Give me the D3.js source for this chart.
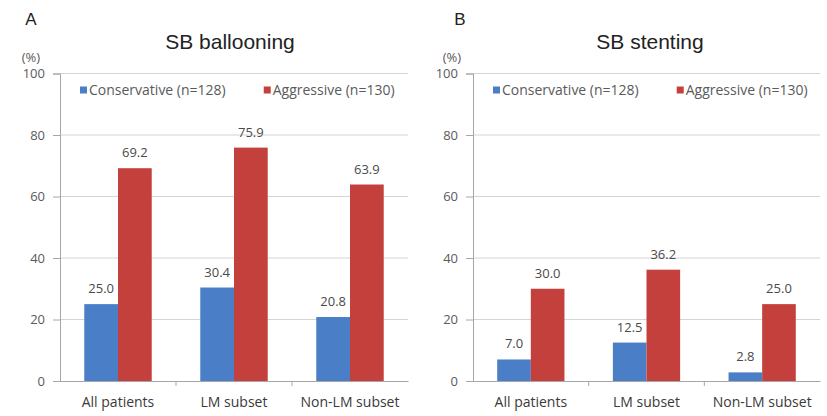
<!DOCTYPE html>
<html>
<head>
<meta charset="utf-8">
<script src="https://cdn.jsdelivr.net/npm/d3@7"></script>
<style>
  html, body { margin: 0; padding: 0; background: #fff; }
  svg { display: block; font-family: "Open Sans", "Noto Sans", sans-serif; }
</style>
</head>
<body>
<svg id="chart" width="827" height="416"></svg>
<script>
// Subgroups shown on the x axis
const categories = ["All patients", "LM subset", "Non-LM subset"];
// Percent of patients per strategy, panel A (SB ballooning)
const ballooningConservative = [25.0, 30.4, 20.8];
const ballooningAggressive = [69.2, 75.9, 63.9];
// Percent of patients per strategy, panel B (SB stenting)
const stentingConservative = [7.0, 12.5, 2.8];
const stentingAggressive = [30.0, 36.2, 25.0];
// Legend entries and y-axis ticks
const seriesNames = ["Conservative (n=128)", "Aggressive (n=130)"];
const yTicks = [0, 20, 40, 60, 80, 100];

const colors = ["#4a7ec6", "#c4403c"];
const svg = d3.select("#chart");

function drawPanel(opt) {
  const g = svg.append("g");
  const x = d3.scaleBand().domain(categories).range([opt.left, opt.right]);
  const y = d3.scaleLinear().domain([0, 100]).range([381, 73.5]);

  // gridlines
  g.append("g").selectAll("line").data(yTicks.filter(t => t > 0)).join("line")
    .attr("x1", opt.left).attr("x2", opt.right)
    .attr("y1", d => y(d)).attr("y2", d => y(d))
    .attr("stroke", "#d4d4d4").attr("stroke-width", 1);

  // y axis
  const yAxis = d3.axisLeft(y).tickValues(yTicks).tickSize(7).tickPadding(8);
  const ya = g.append("g").attr("transform", `translate(${opt.left},0)`).call(yAxis);
  ya.select(".domain").attr("stroke", "#a6a6a6");
  ya.selectAll(".tick line").attr("stroke", "#a6a6a6");
  ya.selectAll(".tick text").attr("fill", "#5a5a5a").attr("font-size", 13)
    .style("font-family", "\"Open Sans\", sans-serif");

  // x axis baseline and band separators
  const xa = g.append("g").attr("transform", `translate(0,${y(0)})`)
    .call(d3.axisBottom(x).tickSize(0).tickPadding(16));
  xa.select(".domain").attr("stroke", "#a6a6a6");
  xa.selectAll(".tick text").attr("fill", "#3a3a3a").attr("font-size", 14)
    .style("font-family", "\"Open Sans\", sans-serif");
  g.append("g").selectAll("line").data(categories.slice(1)).join("line")
    .attr("x1", d => x(d)).attr("x2", d => x(d))
    .attr("y1", y(0)).attr("y2", y(0) + 5)
    .attr("stroke", "#a6a6a6");

  // bars
  const inner = d3.scaleBand().domain([0, 1]).range([0, x.bandwidth()]).paddingOuter(0.72).paddingInner(0);
  const series = [opt.conservative, opt.aggressive];
  series.forEach((vals, si) => {
    const sg = g.append("g");
    sg.selectAll("rect").data(vals).join("rect")
      .attr("x", (d, i) => x(categories[i]) + inner(si))
      .attr("width", inner.bandwidth())
      .attr("y", d => y(d))
      .attr("height", d => y(0) - y(d))
      .attr("fill", colors[si]);
    sg.selectAll("text").data(vals).join("text")
      .attr("x", (d, i) => x(categories[i]) + inner(si) + inner.bandwidth() / 2)
      .attr("y", d => y(d) - 11)
      .attr("text-anchor", "middle")
      .attr("font-size", 13)
      .attr("fill", "#4a4a4a")
      .text(d => d.toFixed(1));
  });

  // legend
  const leg = g.append("g").attr("transform", `translate(${opt.legendX},90)`);
  let lx = 0;
  seriesNames.forEach((name, i) => {
    leg.append("rect").attr("x", lx).attr("y", -3.5).attr("width", 7).attr("height", 7)
      .attr("fill", colors[i]);
    const t = leg.append("text").attr("x", lx + 9).attr("y", 5)
      .attr("font-size", 14).attr("fill", "#5a5a5a").text(name);
    lx += t.node().getComputedTextLength() + 9 + opt.legendGap;
  });

  // title, panel letter, unit
  g.append("text").attr("x", opt.titleX).attr("y", 49).attr("text-anchor", "middle")
    .attr("font-size", 21).attr("fill", "#222")
    .style("font-family", "\"Liberation Sans\", Arial, sans-serif").text(opt.title);
  g.append("text").attr("x", opt.letterX).attr("y", 25).attr("text-anchor", "middle")
    .attr("font-size", 17).attr("fill", "#222")
    .style("font-family", "\"Liberation Sans\", Arial, sans-serif").text(opt.letter);
  g.append("text").attr("x", opt.unitX).attr("y", 62).attr("text-anchor", "middle")
    .attr("font-size", 13).attr("fill", "#5a5a5a").text("(%)");
}

drawPanel({
  left: 60, right: 408, title: "SB ballooning", titleX: 230, letter: "A", letterX: 31,
  unitX: 31, legendX: 80, legendGap: 38,
  conservative: ballooningConservative, aggressive: ballooningAggressive
});
drawPanel({
  left: 473, right: 820, title: "SB stenting", titleX: 650, letter: "B", letterX: 460,
  unitX: 452, legendX: 493, legendGap: 38,
  conservative: stentingConservative, aggressive: stentingAggressive
});
</script>
</body>
</html>
